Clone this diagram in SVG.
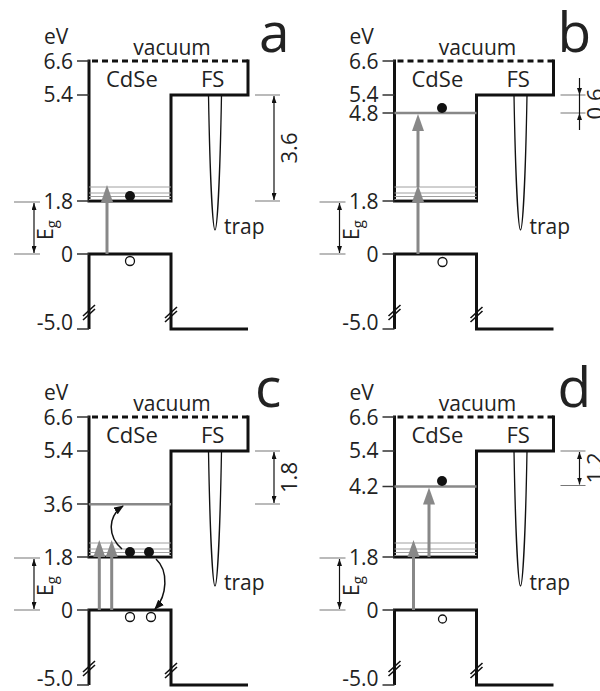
<svg xmlns="http://www.w3.org/2000/svg" width="600" height="691" viewBox="0 0 600 691">
<style>
text{font-family:"Open Sans","Liberation Sans",sans-serif;fill:#222}
.tk{font-size:21px;text-anchor:end}
.lbl{font-size:21px}
.big{font-size:55px}
.dl{font-size:22px;text-anchor:middle}
.thick{fill:none;stroke:#111;stroke-width:3}
.dash{fill:none;stroke:#111;stroke-width:3;stroke-dasharray:6 4}
.tick{stroke:#333;stroke-width:1.5}
.band{stroke:#a0a0a0;stroke-width:1}
.glvl{stroke:#888;stroke-width:2.5}
.dimg{stroke:#777;stroke-width:1.2}
.dim{stroke:#111;stroke-width:1.2;fill:none}
.garr{stroke:#888;stroke-width:3}
.ghead{fill:#888}
.thin{fill:none;stroke:#111;stroke-width:1.3}
.brk{fill:none;stroke:#111;stroke-width:1.6}
.dot{fill:#111}
.hole{fill:#fff;stroke:#111;stroke-width:1.3}
.curve{fill:none;stroke:#111;stroke-width:1.5}
</style>
<defs>
<marker id="ah" viewBox="0 0 7 5" refX="7" refY="2.5" markerWidth="7" markerHeight="5" markerUnits="userSpaceOnUse" orient="auto-start-reverse"><path d="M0,0L7,2.5L0,5z" fill="#111"/></marker>
<marker id="ahc" viewBox="0 0 10 8" refX="9" refY="4" markerWidth="10" markerHeight="8" markerUnits="userSpaceOnUse" orient="auto"><path d="M0,0L10,4L0,8z" fill="#111"/></marker>
<g id="base">
<path class="dash" d="M92,61H248"/>
<path class="thick" d="M89,59.5V201H171V95H248V59.5"/>
<path class="thick" d="M89,329V254H171V329H248"/>
<path class="band" d="M89,187H171M89,193H171M89,196.5H171M89,199.5H171"/>
<path class="brk" d="M83,316L95,305M83,320L95,309M165,318L177,307M165,322L177,311"/>
<path class="tick" d="M77,61H89M77,95H89M77,201H89M77,254H89M77,329H89"/>
<path class="dimg" d="M14,202H40M14,254H40"/>
<path class="dim" d="M34,203V253" marker-start="url(#ah)" marker-end="url(#ah)"/>
<path class="thin" d="M208.5,95C210,180 213,230 215,230C217,230 220,180 221.5,95"/>
<text class="lbl" x="44" y="44">eV</text>
<text class="tk" x="73" y="69">6.6</text>
<text class="tk" x="73" y="102">5.4</text>
<text class="tk" x="73" y="209">1.8</text>
<text class="tk" x="73" y="262">0</text>
<text class="tk" x="73" y="330">-5.0</text>
<text class="lbl" x="172" y="54.5" text-anchor="middle">vacuum</text>
<text class="lbl" x="106" y="87" style="font-size:22px">CdSe</text>
<text class="lbl" x="201" y="87" style="font-size:22px">FS</text>
<text class="lbl" x="224" y="234">trap</text>
<text transform="translate(53,240) rotate(-90)" style="font-size:21px">E<tspan dy="4" style="font-size:15px">g</tspan></text>
</g>
</defs>

<g id="panel-a">
<use href="#base"/>
<text class="big" x="259" y="52">a</text>
<g id="connectors-a">
<path class="garr" d="M107,254V200"/>
<polygon class="ghead" points="107,185 101,202 113,202"/>
<path class="dimg" d="M255,95H280M255,201H280"/>
<path class="dim" d="M274,96V200" marker-start="url(#ah)" marker-end="url(#ah)"/>
</g>
<circle class="dot" cx="130" cy="196" r="5"/>
<circle class="hole" cx="130" cy="261" r="4.5"/>
<text class="dl" transform="translate(297,148) rotate(-90)">3.6</text>
</g>

<g id="panel-b" transform="translate(305.5,0)">
<use href="#base"/>
<text class="big" x="252" y="52">b</text>
<path class="tick" d="M77,113H89"/>
<text class="tk" x="73" y="121">4.8</text>
<path class="glvl" d="M89,113H171"/>
<g id="connectors-b">
<path class="garr" d="M112.5,254V200M112.5,187V129"/>
<polygon class="ghead" points="112.5,185 106.5,202 118.5,202"/>
<polygon class="ghead" points="112.5,114 106.5,131 118.5,131"/>
<path class="dimg" d="M255,95H280M255,113H280"/>
<path class="dim" d="M274,78V130"/>
<polygon fill="#111" points="274,95 271.5,88 276.5,88"/>
<polygon fill="#111" points="274,113 271.5,120 276.5,120"/>
</g>
<circle class="dot" cx="136.5" cy="108" r="5"/>
<circle class="hole" cx="137" cy="262" r="4.5"/>
<text class="dl" transform="translate(297,104) rotate(-90)">0.6</text>
</g>

<g id="panel-c" transform="translate(0,356)">
<use href="#base"/>
<text class="big" x="255" y="51">c</text>
<path class="tick" d="M77,148H89"/>
<text class="tk" x="73" y="156">3.6</text>
<path class="glvl" d="M89,148.3H171"/>
<g id="connectors-c">
<path class="garr" d="M99.3,254V200M111.7,254V200"/>
<polygon class="ghead" points="99.3,184 93.3,201 105.3,201"/>
<polygon class="ghead" points="111.7,184 105.7,201 117.7,201"/>
<path class="curve" d="M122,193C107,180 108,160 123,150" marker-end="url(#ahc)"/>
<path class="curve" d="M156,203C169,215 167,240 155,253" marker-end="url(#ahc)"/>
<path class="dimg" d="M255,95H280M255,148H280"/>
<path class="dim" d="M274,96V147" marker-start="url(#ah)" marker-end="url(#ah)"/>
</g>
<circle class="dot" cx="130" cy="196" r="5"/>
<circle class="dot" cx="149" cy="196" r="5"/>
<circle class="hole" cx="130" cy="261" r="4.5"/>
<circle class="hole" cx="151" cy="261" r="4.5"/>
<text class="dl" transform="translate(297,121.5) rotate(-90)">1.8</text>
</g>

<g id="panel-d" transform="translate(305.5,356)">
<use href="#base"/>
<text class="big" x="252" y="51">d</text>
<path class="tick" d="M77,130.5H89"/>
<text class="tk" x="73" y="138">4.2</text>
<path class="glvl" d="M89,130.5H171"/>
<g id="connectors-d">
<path class="garr" d="M108,254V200M123.5,201V147"/>
<polygon class="ghead" points="108,184 102,201 114,201"/>
<polygon class="ghead" points="123.5,131.5 117.5,148.5 129.5,148.5"/>
<path class="dimg" d="M255,95H280M255,129.5H280"/>
<path class="dim" d="M274,96V128.5" marker-start="url(#ah)" marker-end="url(#ah)"/>
</g>
<circle class="dot" cx="136.5" cy="125" r="5"/>
<circle class="hole" cx="137" cy="263" r="4"/>
<text class="dl" transform="translate(297,112) rotate(-90)">1.2</text>
</g>
</svg>
